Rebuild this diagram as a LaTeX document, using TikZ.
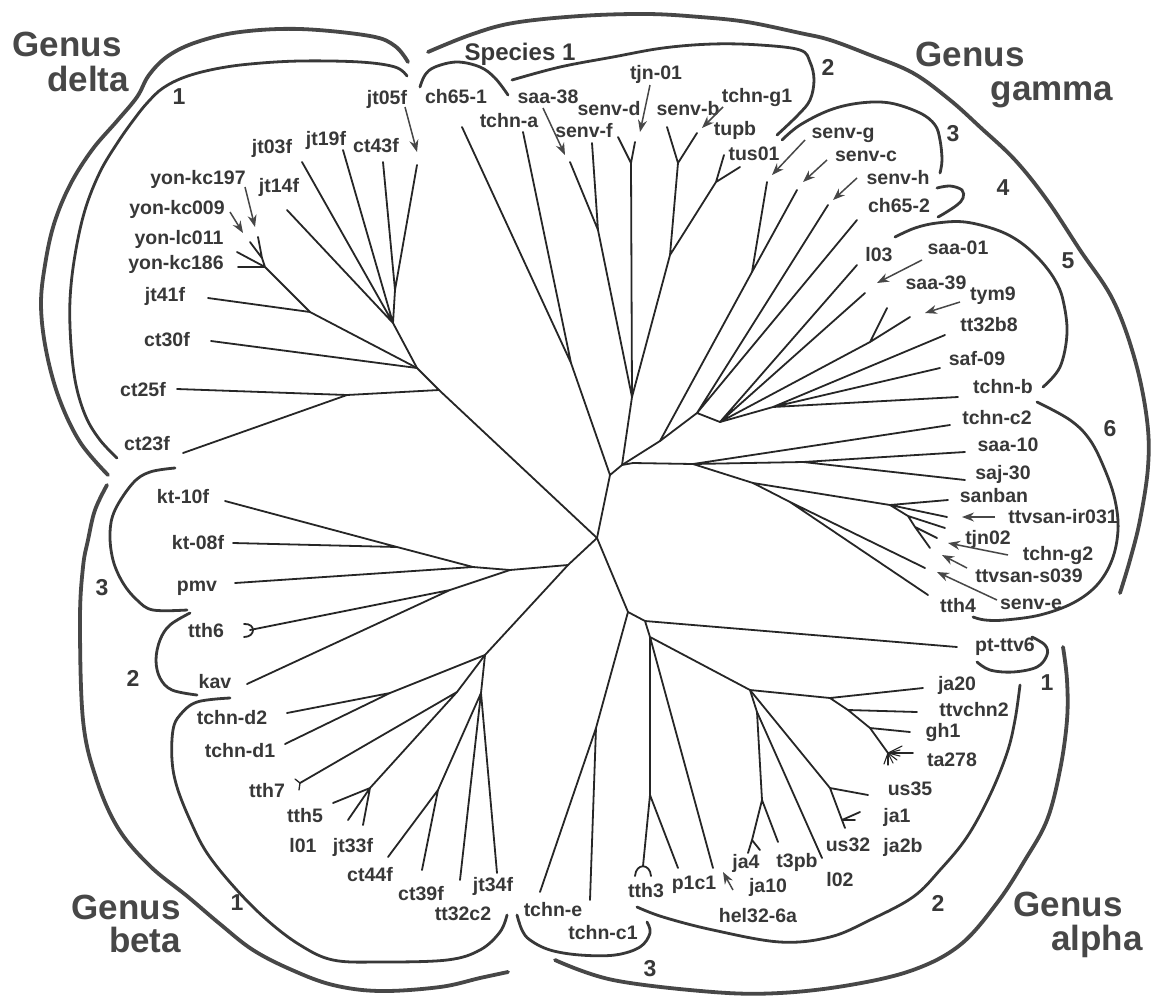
\documentclass[tikz,border=0pt]{standalone}
\usepackage{fontspec}
\setmainfont{Liberation Sans}
\usetikzlibrary{arrows.meta}
\newcommand\lblfont{\fontsize{19.5}{20}\selectfont\bfseries}
\newcommand\numfont{\fontsize{23}{24}\selectfont\bfseries}
\newcommand\genfont{\fontsize{35}{36}\selectfont\bfseries}
\tikzset{
  branch/.style={draw=black!85,line width=1.8pt,line cap=round,line join=round},
  clade/.style={draw=black!78,line width=2.8pt,line cap=round},
  genusarc/.style={draw=black!72,line width=3.8pt,line cap=round},
  leaf/.style={font=\lblfont,text=black!78,inner sep=0pt,text height=14pt,text depth=0pt},
  grpnum/.style={font=\numfont,text=black!78,inner sep=0pt,text height=16pt,text depth=0pt},
  spec/.style={font=\fontsize{24}{25}\selectfont\bfseries,text=black!78,inner sep=0pt,text height=17pt,text depth=0pt},
  genus/.style={font=\genfont,text=black!72,inner sep=0pt,anchor=base},
  pointer/.style={draw=black!72,line width=1.5pt,-{Stealth[length=12pt,width=9pt]}},
}
\begin{document}
\begin{tikzpicture}[x=1pt,y=-1pt]
\fill[white] (0,0) rectangle (1168,997);
\useasboundingbox (0,0) rectangle (1168,997);
% centre of the tree
\coordinate (C1) at (610,475);
\coordinate (C2) at (622,465);
\coordinate (C3) at (597,538);
\coordinate (S1) at (571,363);
\draw[branch] (S1) -- (C1) -- (C2) (C1) -- (C3);
% species 1
\coordinate (tch651) at (462,127);
\coordinate (ttchna) at (523,132);
\draw[branch] (tch651) -- (S1) -- (ttchna);
% genus delta
\coordinate (D1) at (439,390);
\coordinate (D1a) at (347,395);
\coordinate (D2) at (417,368);
\coordinate (J) at (393,323);
\coordinate (Ja) at (395,290);
\coordinate (D4) at (310,312);
\coordinate (Y) at (265,267);
\coordinate (Y2) at (262,258);
\coordinate (tct25f) at (177,389);
\coordinate (tct23f) at (183,453);
\coordinate (tct30f) at (211,341);
\coordinate (tjt14f) at (287,210);
\coordinate (tjt03f) at (302,162);
\coordinate (tjt19f) at (343,150);
\coordinate (tct43f) at (383,162);
\coordinate (tjt05f) at (417,165);
\coordinate (tjt41f) at (208,298);
\coordinate (tkc186) at (238,267);
\coordinate (tlc011) at (237,252);
\coordinate (tkc009) at (250,242);
\coordinate (tkc197) at (258,237);
\draw[branch] (C3) -- (D1) -- (D2) -- (D4) -- (Y) -- (tkc186) (Y) -- (tlc011) (Y) -- (Y2) -- (tkc009) (Y2) -- (tkc197);
\draw[branch] (D1) -- (D1a) -- (tct25f) (D1a) -- (tct23f);
\draw[branch] (D2) -- (tct30f) (D2) -- (J) -- (tjt14f) (J) -- (tjt03f) (J) -- (tjt19f) (J) -- (Ja) -- (tct43f) (Ja) -- (tjt05f);
\draw[branch] (D4) -- (tjt41f);
% genus gamma, upper part
\coordinate (G1) at (632,397);
\coordinate (SF) at (598,230);
\coordinate (SD) at (631,163);
\coordinate (SB) at (678,163);
\coordinate (SBT) at (670,255);
\coordinate (T) at (716,182);
\coordinate (tsaa38) at (570,162);
\coordinate (tsenvf) at (592,143);
\coordinate (tsenvd) at (618,137);
\coordinate (ttjn01) at (635,142);
\coordinate (tsenvb) at (667,127);
\coordinate (ttchng1) at (697,133);
\coordinate (ttupb) at (724,155);
\coordinate (ttus01) at (740,167);
\draw[branch] (C2) -- (G1) -- (SF) -- (tsaa38) (SF) -- (tsenvf);
\draw[branch] (G1) -- (SD) -- (tsenvd) (SD) -- (ttjn01);
\draw[branch] (G1) -- (SBT) -- (SB) -- (tsenvb) (SB) -- (ttchng1) (SBT) -- (T) -- (ttupb) (T) -- (ttus01);
% genus gamma, fan
\coordinate (Ga) at (660,441);
\coordinate (Gg) at (752,272);
\coordinate (Gh) at (697,413);
\coordinate (Gi) at (720,422);
\coordinate (Gj) at (773,407);
\coordinate (S39) at (870,342);
\coordinate (tsenvg) at (767,182);
\coordinate (tsenvc) at (797,190);
\coordinate (tsenvh) at (828,205);
\coordinate (tch652) at (857,220);
\coordinate (tl03) at (857,265);
\coordinate (tsaa01) at (865,293);
\coordinate (tsaa39) at (887,308);
\coordinate (ttym9) at (910,317);
\coordinate (ttt32b8) at (945,335);
\coordinate (tsaf09) at (940,368);
\coordinate (ttchnb) at (958,397);
\draw[branch] (C2) -- (Ga) -- (Gg) -- (tsenvg) (Gg) -- (tsenvc);
\draw[branch] (Ga) -- (Gh) -- (tsenvh) (Gh) -- (tch652) (Gh) -- (Gi) -- (tl03) (Gi) -- (tsaa01) (Gi) -- (S39) -- (tsaa39) (S39) -- (ttym9);
\draw[branch] (Gi) -- (Gj) -- (ttt32b8) (Gj) -- (tsaf09) (Gj) -- (ttchnb);
% genus gamma, lower part
\coordinate (Gs) at (633,463);
\coordinate (Gt) at (693,464);
\coordinate (Gv) at (803,462);
\coordinate (Gu) at (753,483);
\coordinate (Gw) at (790,502);
\coordinate (SN) at (890,505);
\coordinate (SN2) at (908,516);
\coordinate (SN3) at (915,527);
\coordinate (ttchnc2) at (950,425);
\coordinate (tsaa10) at (965,452);
\coordinate (tsaj30) at (965,480);
\coordinate (tsanban) at (948,500);
\coordinate (tir031) at (947,517);
\coordinate (ttjn02) at (945,528);
\coordinate (ttchng2) at (937,538);
\coordinate (ts039) at (930,548);
\coordinate (tsenve) at (925,568);
\coordinate (ttth4) at (928,595);
\draw[branch] (C2) -- (Gs) -- (Gt) -- (Gv) -- (tsaa10) (Gv) -- (tsaj30) (Gt) -- (ttchnc2);
\draw[branch] (Gt) -- (Gu) -- (SN) -- (tsanban) (SN) -- (tir031) (SN) -- (SN2) -- (ttjn02) (SN2) -- (SN3) -- (ttchng2) (SN3) -- (ts039);
\draw[branch] (Gu) -- (Gw) -- (tsenve) (Gw) -- (ttth4);
% genus alpha
\coordinate (A1) at (628,612);
\coordinate (T1) at (596,728);
\coordinate (A2) at (645,621);
\coordinate (A3) at (650,637);
\coordinate (T3) at (650,795);
\coordinate (A4) at (750,690);
\coordinate (AJ) at (830,698);
\coordinate (AJ2) at (848,710);
\coordinate (AJ3) at (870,728);
\coordinate (AJ4) at (888,753);
\coordinate (A5) at (757,712);
\coordinate (JN) at (762,800);
\coordinate (J4) at (752,840);
\coordinate (US) at (830,788);
\coordinate (US2) at (842,820);
\coordinate (ttchne) at (540,892);
\coordinate (ttchnc1) at (590,900);
\coordinate (tptttv6) at (957,647);
\coordinate (ttth3) at (643,866);
\coordinate (tp1c1) at (678,868);
\coordinate (thel) at (713,868);
\coordinate (tja20) at (923,688);
\coordinate (tttvchn2) at (917,712);
\coordinate (tgh1) at (910,732);
\coordinate (tta278) at (913,753);
\coordinate (tt3pb) at (778,842);
\coordinate (tja4a) at (748,853);
\coordinate (tja4b) at (760,850);
\coordinate (tus35) at (868,795);
\coordinate (tja1) at (860,812);
\coordinate (tja2b) at (855,820);
\coordinate (tus32) at (845,828);
\coordinate (tl02) at (822,858);
\draw[branch] (C3) -- (A1) -- (T1) -- (ttchne) (T1) -- (ttchnc1);
\draw[branch] (A1) -- (A2) -- (tptttv6) (A2) -- (A3) -- (T3) -- (ttth3) (T3) -- (tp1c1) (A3) -- (thel) (A3) -- (A4);
\draw[branch] (A4) -- (AJ) -- (tja20) (AJ) -- (AJ2) -- (tttvchn2) (AJ2) -- (AJ3) -- (tgh1) (AJ3) -- (AJ4) -- (tta278);
\draw[branch] (A4) -- (A5) -- (JN) -- (tt3pb) (JN) -- (J4) -- (tja4a) (J4) -- (tja4b);
\draw[branch] (A5) -- (tl02) (A4) -- (US) -- (tus35) (US) -- (US2) -- (tja1) (US2) -- (tja2b) (US2) -- (tus32);
\foreach \dx/\dy in {14/-7,12/-3,12/3,9/7,5/10,0/12,-4/11}
  \draw[branch,line width=1.1pt] (AJ4) -- ++(\dx,\dy);
\draw[branch] (635,876) .. controls (636,863) and (650,863) .. (651,876);
% genus beta
\coordinate (B1) at (568,565);
\coordinate (Bk) at (510,570);
\coordinate (Bp) at (473,567);
\coordinate (Bkt) at (397,547);
\coordinate (Bk2) at (450,590);
\coordinate (Bt) at (485,655);
\coordinate (Bd) at (390,693);
\coordinate (Bv) at (481,693);
\coordinate (Bs) at (457,692);
\coordinate (J3) at (370,788);
\coordinate (Bc) at (438,790);
\coordinate (tpmv) at (235,583);
\coordinate (tkt10f) at (225,501);
\coordinate (tkt08f) at (233,543);
\coordinate (ttth6) at (250,630);
\coordinate (tkav) at (247,684);
\coordinate (td2) at (287,713);
\coordinate (td1) at (285,744);
\coordinate (ttt32c2) at (460,880);
\coordinate (tjt34f) at (497,873);
\coordinate (ttth7) at (300,783);
\coordinate (ttth5) at (333,803);
\coordinate (tl01) at (348,820);
\coordinate (tjt33f) at (363,825);
\coordinate (tct44f) at (388,857);
\coordinate (tct39f) at (422,870);
\draw[branch] (C3) -- (B1) -- (Bk) -- (Bp) -- (tpmv) (Bp) -- (Bkt) -- (tkt10f) (Bkt) -- (tkt08f);
\draw[branch] (Bk) -- (Bk2) -- (ttth6) (Bk2) -- (tkav);
\draw[branch] (B1) -- (Bt) -- (Bd) -- (td2) (Bd) -- (td1);
\draw[branch] (Bt) -- (Bv) -- (ttt32c2) (Bv) -- (tjt34f) (Bv) -- (Bc) -- (tct44f) (Bc) -- (tct39f);
\draw[branch] (Bt) -- (Bs) -- (ttth7) (Bs) -- (J3) -- (ttth5) (J3) -- (tl01) (J3) -- (tjt33f);
\draw[branch] (244,624) .. controls (256,623) and (256,637) .. (244,637);
\draw[branch,line width=1.3pt] (295,779) -- (ttth7) -- (299,790);
% clade arcs
\draw[genusarc] plot[smooth,tension=0.6] coordinates {(408,62) (395,46) (370,36) (300,29) (240,32) (197,42) (168,56) (149,75) (137,97) (117,121) (92,150) (70,185) (54,224) (45,265) (41,305) (46,350) (59,398) (80,442) (108,475)};
\draw[clade] plot[smooth,tension=0.6] coordinates {(407,76) (395,67) (360,62) (300,61) (250,64) (215,69) (185,77) (163,88) (148,102) (135,118) (118,142) (100,172) (85,210) (75,255) (70,300) (71,345) (76,385) (86,417) (100,440) (117,458)};
\draw[clade] plot[smooth,tension=0.6] coordinates {(420,87) (425,75) (435,67) (457,62) (480,67) (495,78) (508,95)};
\draw[clade] plot[smooth,tension=0.6] coordinates {(512,80) (560,67) (613,57) (663,48) (713,44) (760,45) (800,50) (810,62) (814,80) (810,100) (798,115) (777,135)};
\draw[clade] plot[smooth,tension=0.6] coordinates {(782,140) (800,125) (830,110) (860,103) (890,103) (920,113) (935,125) (940,140) (942,160) (940,173)};
\draw[clade] plot[smooth,tension=0.6] coordinates {(937,188) (950,186) (962,190) (963,198) (957,205) (945,213) (938,217)};
\draw[clade] plot[smooth,tension=0.6] coordinates {(895,237) (915,228) (937,223) (965,222) (997,230) (1020,242) (1040,260) (1055,280) (1063,300) (1067,333) (1060,367) (1043,387)};
\draw[clade] plot[smooth,tension=0.6] coordinates {(1037,402) (1070,420) (1090,440) (1105,470) (1115,500) (1118,530) (1112,560) (1097,585) (1073,603) (1040,615) (1005,620) (985,620) (973,617)};
\draw[genusarc] plot[smooth,tension=0.6] coordinates {(428,52) (470,35) (513,23) (580,16) (647,14) (700,17) (747,22) (800,33) (830,40) (870,55) (913,73) (950,100) (980,127) (1015,160) (1047,200) (1080,250) (1113,300) (1135,360) (1147,420) (1148,467) (1140,520) (1130,560) (1120,593)};
\draw[clade] plot[smooth,tension=0.6] coordinates {(175,468) (150,472) (133,483) (115,510) (110,533) (113,560) (123,583) (137,600) (153,610) (187,610)};
\draw[clade] plot[smooth,tension=0.6] coordinates {(190,613) (170,625) (160,640) (156,660) (160,678) (172,690) (197,695)};
\draw[clade] plot[smooth,tension=0.6] coordinates {(230,698) (197,702) (180,715) (173,730) (172,760) (177,787) (190,820) (207,853) (235,888) (267,920) (300,945) (333,960) (380,962) (447,960) (480,950) (500,932) (507,915)};
\draw[genusarc] plot[smooth,tension=0.6] coordinates {(107,485) (95,510) (88,540) (83,567) (80,620) (83,720) (96,778) (118,828) (150,866) (187,896) (220,924) (253,950) (292,970) (333,985) (380,991) (440,987) (480,978) (508,972)};
\draw[clade] plot[smooth,tension=0.6] coordinates {(517,915) (522,930) (530,940) (550,950) (580,955) (615,955) (640,947) (650,933) (647,922)};
\draw[genusarc] plot[smooth,tension=0.6] coordinates {(555,960) (613,980) (713,992) (780,993) (850,985) (913,970) (960,945) (997,903) (1025,860) (1047,820) (1060,770) (1067,720) (1067,680) (1063,647)};
\draw[clade] plot[smooth,tension=0.6] coordinates {(1020,685) (1015,720) (1007,753) (990,795) (967,837) (940,870) (913,897) (870,920) (830,937) (780,942) (713,930) (663,917) (637,907)};
\draw[clade] plot[smooth,tension=0.6] coordinates {(1032,637) (1045,645) (1047,655) (1037,667) (1013,672) (990,670) (977,662)};
% leaf labels, delta
\node[leaf] (jt05f) at (387,97) {jt05f};
\node[leaf] (jt03f) at (272,146) {jt03f};
\node[leaf] (jt19f) at (326,138) {jt19f};
\node[leaf] (ct43f) at (376,145) {ct43f};
\node[leaf] (jt14f) at (279,185) {jt14f};
\node[leaf] (kc197) at (198,177) {yon-kc197};
\node[leaf] (kc009) at (177,207) {yon-kc009};
\node[leaf] (lc011) at (179,237) {yon-lc011};
\node[leaf] (kc186) at (176,262) {yon-kc186};
\node[leaf] (jt41f) at (165,294) {jt41f};
\node[leaf] (ct30f) at (167,339) {ct30f};
\node[leaf] (ct25f) at (143,389) {ct25f};
\node[leaf] (ct23f) at (147,443) {ct23f};
% leaf labels, beta
\node[leaf] (kt10f) at (183,496) {kt-10f};
\node[leaf] (kt08f) at (198,542) {kt-08f};
\node[leaf] (pmv) at (197,584) {pmv};
\node[leaf] (tth6) at (206,630) {tth6};
\node[leaf] (kav) at (215,681) {kav};
\node[leaf] (tchnd2) at (232,717) {tchn-d2};
\node[leaf] (tchnd1) at (240,750) {tchn-d1};
\node[leaf] (tth7) at (267,790) {tth7};
\node[leaf] (tth5) at (305,815) {tth5};
\node[leaf] (l01) at (303,845) {l01};
\node[leaf] (jt33f) at (353,845) {jt33f};
\node[leaf] (ct44f) at (370,874) {ct44f};
\node[leaf] (ct39f) at (421,893) {ct39f};
\node[leaf] (tt32c2) at (463,913) {tt32c2};
\node[leaf] (jt34f) at (493,884) {jt34f};
% leaf labels, alpha
\node[leaf] (tchne) at (553,909) {tchn-e};
\node[leaf] (tchnc1) at (603,932) {tchn-c1};
\node[leaf] (tth3) at (646,890) {tth3};
\node[leaf] (p1c1) at (694,882) {p1c1};
\node[leaf] (hel) at (758,915) {hel32-6a};
\node[leaf] (ja4) at (746,861) {ja4};
\node[leaf] (ja10) at (768,885) {ja10};
\node[leaf] (t3pb) at (797,860) {t3pb};
\node[leaf] (l02) at (840,879) {l02};
\node[leaf] (us32) at (848,844) {us32};
\node[leaf] (ja2b) at (903,845) {ja2b};
\node[leaf] (ja1) at (897,815) {ja1};
\node[leaf] (us35) at (910,788) {us35};
\node[leaf] (ta278) at (952,759) {ta278};
\node[leaf] (gh1) at (943,730) {gh1};
\node[leaf] (ttvchn2) at (974,709) {ttvchn2};
\node[leaf] (ja20) at (957,683) {ja20};
\node[leaf] (ptttv6) at (1005,644) {pt-ttv6};
% leaf labels, gamma
\node[leaf] (tth4) at (958,605) {tth4};
\node[leaf] (senve) at (1031,602) {senv-e};
\node[leaf] (s039) at (1029,575) {ttvsan-s039};
\node[leaf] (tchng2) at (1058,553) {tchn-g2};
\node[leaf] (tjn02) at (988,537) {tjn02};
\node[leaf] (ir031) at (1063,516) {ttvsan-ir031};
\node[leaf] (sanban) at (994,495) {sanban};
\node[leaf] (saj30) at (1003,472) {saj-30};
\node[leaf] (saa10) at (1008,444) {saa-10};
\node[leaf] (tchnc2) at (997,417) {tchn-c2};
\node[leaf] (tchnb) at (1003,386) {tchn-b};
\node[leaf] (saf09) at (977,358) {saf-09};
\node[leaf] (tt32b8) at (989,324) {tt32b8};
\node[leaf] (tym9) at (993,293) {tym9};
\node[leaf] (saa39) at (936,282) {saa-39};
\node[leaf] (saa01) at (958,247) {saa-01};
\node[leaf] (l03) at (879,254) {l03};
\node[leaf] (ch652) at (899,205) {ch65-2};
\node[leaf] (senvh) at (898,177) {senv-h};
\node[leaf] (senvc) at (866,154) {senv-c};
\node[leaf] (senvg) at (843,131) {senv-g};
\node[leaf] (tus01) at (754,153) {tus01};
\node[leaf] (tupb) at (735,128) {tupb};
\node[leaf] (tchng1) at (757,95) {tchn-g1};
\node[leaf] (senvb) at (688,108) {senv-b};
\node[leaf] (tjn01) at (656,72) {tjn-01};
\node[leaf] (senvd) at (609,108) {senv-d};
\node[leaf] (senvf) at (584,130) {senv-f};
\node[leaf] (saa38) at (548,96) {saa-38};
\node[leaf] (tchna) at (509,120) {tchn-a};
\node[leaf] (ch651) at (456,96) {ch65-1};
% pointers
\coordinate (p1) at (245,187); \coordinate (q1) at (255,227);
\coordinate (p2) at (230,212); \coordinate (q2) at (243,233);
\coordinate (p3) at (405,107); \coordinate (q3) at (417,152);
\coordinate (p4) at (543,108); \coordinate (q4) at (565,155);
\coordinate (p5) at (650,85);  \coordinate (q5) at (640,132);
\coordinate (p6) at (723,107); \coordinate (q6) at (702,128);
\coordinate (p7) at (805,140); \coordinate (q7) at (772,175);
\coordinate (p8) at (827,160); \coordinate (q8) at (803,182);
\coordinate (p9) at (857,178); \coordinate (q9) at (833,200);
\coordinate (p10) at (922,260); \coordinate (q10) at (877,283);
\coordinate (p11) at (960,302); \coordinate (q11) at (925,313);
\coordinate (p12) at (995,517); \coordinate (q12) at (962,517);
\coordinate (p13) at (1008,555); \coordinate (q13) at (948,543);
\coordinate (p14) at (967,568); \coordinate (q14) at (942,555);
\coordinate (p15) at (997,600); \coordinate (q15) at (937,572);
\coordinate (p16) at (733,890); \coordinate (q16) at (723,872);
\foreach \i in {1,...,16} \draw[pointer] (p\i) -- (q\i);
% clade numbers
\node[grpnum] (nd1) at (179,96) {1};
\node[grpnum] (ng2) at (828,67) {2};
\node[grpnum] (ng3) at (953,133) {3};
\node[grpnum] (ng4) at (1003,187) {4};
\node[grpnum] (ng5) at (1068,260) {5};
\node[grpnum] (ng6) at (1110,428) {6};
\node[grpnum] (nb3) at (102,587) {3};
\node[grpnum] (nb2) at (133,678) {2};
\node[grpnum] (nb1) at (237,902) {1};
\node[grpnum] (na1) at (1047,682) {1};
\node[grpnum] (na2) at (938,903) {2};
\node[grpnum] (na3) at (650,968) {3};
\node[spec] (sp1) at (520,52) {Species 1};
% genus names
\node[genus] (gd1) at (67,56) {Genus};
\node[genus] (gd2) at (88,91) {delta};
\node[genus] (gg1) at (970,66) {Genus};
\node[genus] (gg2) at (1052,100) {gamma};
\node[genus] (gb1) at (126,919) {Genus};
\node[genus] (gb2) at (145,952) {beta};
\node[genus] (ga1) at (1068,916) {Genus};
\node[genus] (ga2) at (1097,950) {alpha};
\end{tikzpicture}
\end{document}
